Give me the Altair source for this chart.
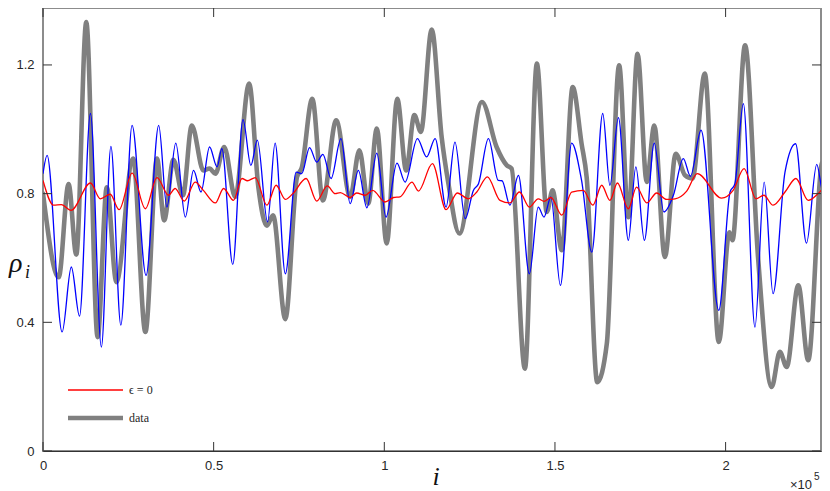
import altair as alt
import pandas as pd

# ---------------- data ----------------
x_ticks = [0, 50000, 100000, 150000, 200000]
y_ticks = [0, 0.4, 0.8, 1.2]

gray_x = [0, 4600, 7500, 9750, 12680, 16000, 18700, 21500, 26400, 30000, 33400, 35500, 38200, 41000, 43600,
          47000, 48800, 50500, 53100, 56300, 60400, 63100, 65600, 67400, 71000, 74400, 75800, 78900, 82000, 85900,
          90000, 92700, 95300, 97800, 100700, 103800, 106400, 108800, 110700, 113900, 116800, 118800, 122000,
          128600, 132900, 135900, 137300, 141200, 144700, 147600, 149300, 152000, 155200, 157800, 159300, 162400,
          165200, 168800, 171500, 174200, 176900, 179100, 182200, 185400, 188100, 190300, 193900, 198000, 201100,
          202000, 205700, 209500, 213500, 215900, 217900, 221300, 224200, 228400, 230000]
gray_y = [0.80, 0.54, 0.83, 0.61, 1.333, 0.354, 0.82, 0.525, 0.909, 0.37, 0.909, 0.717, 0.905, 0.795, 1.012,
          0.872, 0.878, 0.862, 0.945, 0.79, 1.142, 0.82, 0.70, 0.733, 0.41, 0.851, 0.88, 1.095, 0.779, 1.028,
          0.79, 0.935, 0.769, 1.002, 0.645, 1.095, 0.872, 1.044, 0.992, 1.31, 0.976, 0.83, 0.676, 1.085, 0.945,
          0.888, 0.878, 0.256, 1.204, 0.743, 0.81, 0.624, 1.131, 0.955, 0.85, 0.214, 0.334, 1.199, 0.727, 1.235,
          0.836, 1.012, 0.603, 0.924, 0.857, 0.847, 1.173, 0.339, 0.68, 0.655, 1.261, 0.603, 0.199, 0.308, 0.261,
          0.515, 0.282, 0.898, 0.83]

blue_x = [0, 1200, 5600, 8300, 10700, 13900, 17100, 19900, 22800, 26100, 30200, 33900, 36300, 38900, 41700,
          44100, 46300, 48800, 51000, 52400, 55600, 58600, 60900, 62800, 65800, 68000, 71000, 74200, 75800, 78100,
          80200, 82000, 84400, 87300, 90000, 92400, 94900, 97800, 100500, 103700, 106100, 109700, 112400, 114900,
          118100, 120700, 123700, 126100, 127600, 130500, 133400, 134500, 136800, 139300, 142500, 145100, 146800,
          148800, 151600, 154900, 157800, 160800, 164000, 166100, 168600, 171500, 173700, 176200, 179100, 181900,
          184700, 187600, 189700, 192800, 198000, 201300, 202700, 205200, 208600, 211300, 213900, 217400, 220500,
          223700, 226700, 228600, 230000]
blue_y = [0.862, 0.919, 0.37, 0.572, 0.419, 1.049, 0.323, 0.947, 0.391, 1.012, 0.546, 1.012, 0.758, 0.957, 0.727,
          0.872, 0.805, 0.945, 0.883, 0.94, 0.58, 1.03, 0.888, 0.966, 0.712, 0.957, 0.551, 0.867, 0.862, 0.943,
          0.898, 0.922, 0.847, 0.971, 0.769, 0.872, 0.756, 0.926, 0.727, 0.895, 0.836, 0.971, 0.914, 0.971, 0.758,
          0.96, 0.722, 0.81, 0.831, 0.971, 0.841, 0.84, 0.764, 0.857, 0.551, 0.758, 0.727, 0.79, 0.515, 0.957,
          0.841, 0.618, 1.049, 0.826, 1.036, 0.655, 0.883, 0.655, 0.957, 0.743, 0.795, 0.909, 0.854, 0.997, 0.437,
          0.805, 0.83, 1.08, 0.385, 0.836, 0.489, 0.867, 0.955, 0.646, 0.891, 0.802, 0.836]

red_x = [0, 3100, 5400, 8200, 13900, 16800, 19700, 22300, 26100, 30000, 33400, 36800, 38700, 41400, 44600,
         47000, 50500, 52900, 55800, 58300, 59900, 62200, 65600, 68300, 71000, 73200, 77100, 80200, 83300, 85600,
         87100, 90000, 91900, 94400, 96600, 100200, 102700, 104600, 108100, 110000, 114100, 118100, 121400, 124600,
         127100, 130200, 133900, 136800, 139600, 142500, 145100, 146800, 148800, 152000, 154900, 158300, 161100,
         163700, 166100, 168300, 171500, 173900, 176900, 179800, 182700, 185200, 188600, 191700, 198800, 202200,
         205400, 208900, 211200, 213900, 217400, 220600, 224200, 227100, 230000]
red_y = [0.841, 0.764, 0.766, 0.748, 0.833, 0.784, 0.798, 0.75, 0.864, 0.753, 0.85, 0.795, 0.816, 0.777, 0.836,
         0.81, 0.771, 0.816, 0.779, 0.847, 0.84, 0.85, 0.764, 0.826, 0.782, 0.80, 0.847, 0.777, 0.824, 0.80,
         0.803, 0.788, 0.802, 0.795, 0.81, 0.774, 0.788, 0.79, 0.836, 0.808, 0.893, 0.75, 0.802, 0.784, 0.805,
         0.852, 0.779, 0.771, 0.805, 0.758, 0.784, 0.776, 0.788, 0.733, 0.805, 0.81, 0.764, 0.826, 0.779, 0.833,
         0.753, 0.82, 0.771, 0.802, 0.782, 0.784, 0.808, 0.862, 0.786, 0.81, 0.878, 0.784, 0.795, 0.764, 0.805,
         0.847, 0.779, 0.80, 0.836]

series_names = ["ϵ = 0", "data"]
series_colors = ["#ff0000", "#808080"]
series_widths = [1.3, 4.6]

# ---------------- layout ----------------
W, H = 778, 443
TICK = 9

gray_df = pd.DataFrame({"i": gray_x, "rho": gray_y, "series": "data"})
blue_df = pd.DataFrame({"i": blue_x, "rho": blue_y})
red_df = pd.DataFrame({"i": red_x, "rho": red_y, "series": "ϵ = 0"})

xs = alt.Scale(domain=[0, 227950], nice=False, zero=False)
ys = alt.Scale(domain=[0, 1.377], nice=False, zero=False)

LABEL_FONT = "Liberation Sans"
SERIF = "Liberation Serif"

color_enc = alt.Color("series:N", scale=alt.Scale(domain=series_names, range=series_colors), legend=None)
width_enc = alt.StrokeWidth("series:N", scale=alt.Scale(domain=series_names, range=series_widths), legend=None)

x_axis = alt.Axis(
    values=x_ticks, labelExpr="datum.value / 100000", grid=False, ticks=False, tickSize=0,
    domainColor="#333333", domainWidth=1, labelFont=LABEL_FONT, labelFontSize=13, labelColor="#262626",
    labelPadding=8, labelFlush=False, title=None,
)
y_axis = alt.Axis(
    values=y_ticks, labelExpr="'' + datum.value", grid=False, ticks=False, tickSize=0, domain=False,
    labelFont=LABEL_FONT, labelFontSize=13, labelColor="#262626", labelPadding=9, labelFlush=False, title=None,
)

X = alt.X("i:Q", scale=xs, axis=x_axis)
Y = alt.Y("rho:Q", scale=ys, axis=y_axis)

gray = alt.Chart(gray_df).mark_line(interpolate="monotone", clip=True, strokeCap="round").encode(
    x=X, y=Y, color=color_enc, strokeWidth=width_enc,
)
blue = alt.Chart(blue_df).mark_line(interpolate="monotone", clip=True, color="#0000ff", strokeWidth=1.3).encode(
    x=X, y=Y,
)
red = alt.Chart(red_df).mark_line(interpolate="monotone", clip=True).encode(
    x=X, y=Y, color=color_enc, strokeWidth=width_enc,
)

xt = pd.DataFrame({"i": x_ticks})
yt = pd.DataFrame({"rho": y_ticks})
tick_style = dict(color="#333333", strokeWidth=1)
ticks_bottom = alt.Chart(xt).mark_rule(**tick_style).encode(x=X, y=alt.value(H), y2=alt.value(H - TICK))
ticks_top = alt.Chart(xt).mark_rule(**tick_style).encode(x=X, y=alt.value(0), y2=alt.value(TICK))
ticks_left = alt.Chart(yt).mark_rule(**tick_style).encode(y=Y, x=alt.value(0), x2=alt.value(TICK))
ticks_right = alt.Chart(yt).mark_rule(**tick_style).encode(y=Y, x=alt.value(W), x2=alt.value(W - TICK))

# ---- legend (inside the axes, lower left) ----
one = pd.DataFrame({"k": [0]})
LEG_X0, LEG_X1, LEG_Y0, LEG_DY = 25, 80, 382, 28
legend_layers = []
for k, (name, col, sw) in enumerate(zip(series_names, series_colors, series_widths)):
    yy = LEG_Y0 + k * LEG_DY
    legend_layers.append(
        alt.Chart(one).mark_rule(color=col, strokeWidth=sw).encode(
            x=alt.value(LEG_X0), x2=alt.value(LEG_X1), y=alt.value(yy))
    )
    legend_layers.append(
        alt.Chart(one).mark_text(text=name, font=SERIF, fontSize=12, align="left", baseline="middle",
                                 color="#262626").encode(x=alt.value(LEG_X1 + 6), y=alt.value(yy))
    )

rho_t = alt.Chart(one).mark_text(text="ρ", font=SERIF, fontStyle="italic", fontSize=28, align="left",
                                 baseline="alphabetic", color="#111111").encode(x=alt.value(-34), y=alt.value(264))
rho_sub = alt.Chart(one).mark_text(text="i", font=SERIF, fontStyle="italic", fontSize=18, align="left",
                                   baseline="alphabetic", color="#111111").encode(x=alt.value(-18), y=alt.value(270))
i_t = alt.Chart(one).mark_text(text="i", font=SERIF, fontStyle="italic", fontSize=26, align="center",
                               baseline="alphabetic", color="#111111").encode(x=alt.value(393), y=alt.value(477))
exp_t = alt.Chart(one).mark_text(text="×10", font=LABEL_FONT, fontSize=13, align="right",
                                 baseline="alphabetic", color="#262626").encode(x=alt.value(769), y=alt.value(481))
exp5 = alt.Chart(one).mark_text(text="5", font=LABEL_FONT, fontSize=10, align="left",
                                baseline="alphabetic", color="#262626").encode(x=alt.value(771), y=alt.value(472))

chart = alt.layer(
    gray, blue, red, ticks_bottom, ticks_top, ticks_left, ticks_right, *legend_layers,
    rho_t, rho_sub, i_t, exp_t, exp5
).properties(
    width=W, height=H,
    autosize=alt.AutoSizeParams(type="none"),
    padding={"left": 35, "top": 0, "right": 1, "bottom": 45},
    background="white",
).configure_view(stroke="#8c8c8c", strokeWidth=2)

chart.save("out.html", embed_options={"renderer": "svg", "actions": False})
